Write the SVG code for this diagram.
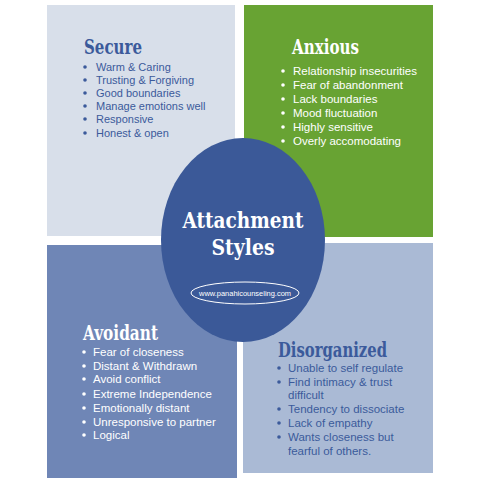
<svg xmlns="http://www.w3.org/2000/svg" width="480" height="480" viewBox="0 0 480 480">
<style>
.title{font-family:"DejaVu Serif Condensed","DejaVu Serif","Liberation Serif",serif;font-weight:bold;}
.item{font-family:"Liberation Sans","DejaVu Sans",sans-serif;font-size:11px;}
.big{font-size:11.5px;}
.dark{fill:#3b5a9b;}
.light{fill:#ffffff;}
</style>
<rect width="480" height="480" fill="#ffffff"/>
<g id="secure">
<rect x="47" y="5" width="188" height="231" fill="#d8dfea"/>
<text class="title dark" x="84" y="54" font-size="21" textLength="58" lengthAdjust="spacingAndGlyphs">Secure</text>
<g class="item dark">
<circle cx="85" cy="67" r="1.8"/><text x="96" y="71">Warm &amp; Caring</text>
<circle cx="85" cy="80" r="1.8"/><text x="96" y="84">Trusting &amp; Forgiving</text>
<circle cx="85" cy="93" r="1.8"/><text x="96" y="97">Good boundaries</text>
<circle cx="85" cy="106" r="1.8"/><text x="96" y="110">Manage emotions well</text>
<circle cx="85" cy="119" r="1.8"/><text x="96" y="123">Responsive</text>
<circle cx="85" cy="133" r="1.8"/><text x="96" y="137">Honest &amp; open</text>
</g>
</g>
<g id="anxious">
<rect x="244" y="5" width="189" height="232" fill="#68a333"/>
<text class="title light" x="292" y="54" font-size="21" textLength="67" lengthAdjust="spacingAndGlyphs">Anxious</text>
<g class="item big light">
<circle cx="283" cy="71" r="1.8"/><text x="293" y="75">Relationship insecurities</text>
<circle cx="283" cy="85" r="1.8"/><text x="293" y="89">Fear of abandonment</text>
<circle cx="283" cy="99" r="1.8"/><text x="293" y="103">Lack boundaries</text>
<circle cx="283" cy="113" r="1.8"/><text x="293" y="117">Mood fluctuation</text>
<circle cx="283" cy="127" r="1.8"/><text x="293" y="131">Highly sensitive</text>
<circle cx="283" cy="141" r="1.8"/><text x="293" y="145">Overly accomodating</text>
</g>
</g>
<g id="avoidant">
<rect x="47" y="245" width="190" height="233" fill="#6f86b6"/>
<text class="title light" x="83" y="340" font-size="21" textLength="75" lengthAdjust="spacingAndGlyphs">Avoidant</text>
<g class="item big light">
<circle cx="84" cy="352" r="1.8"/><text x="93" y="356">Fear of closeness</text>
<circle cx="84" cy="366" r="1.8"/><text x="93" y="370">Distant &amp; Withdrawn</text>
<circle cx="84" cy="379" r="1.8"/><text x="93" y="383">Avoid conflict</text>
<circle cx="84" cy="394" r="1.8"/><text x="93" y="398">Extreme Independence</text>
<circle cx="84" cy="408" r="1.8"/><text x="93" y="412">Emotionally distant</text>
<circle cx="84" cy="422" r="1.8"/><text x="93" y="426">Unresponsive to partner</text>
<circle cx="84" cy="435" r="1.8"/><text x="93" y="439">Logical</text>
</g>
</g>
<g id="disorganized">
<rect x="243" y="243" width="190" height="230" fill="#aabad5"/>
<text class="title dark" x="278" y="357" font-size="21" textLength="109" lengthAdjust="spacingAndGlyphs">Disorganized</text>
<g class="item big dark">
<circle cx="279" cy="368" r="1.8"/><text x="288" y="372">Unable to self regulate</text>
<circle cx="279" cy="382" r="1.8"/><text x="288" y="386">Find intimacy &amp; trust</text>
<text x="288" y="399">difficult</text>
<circle cx="279" cy="409" r="1.8"/><text x="288" y="413">Tendency to dissociate</text>
<circle cx="279" cy="423" r="1.8"/><text x="288" y="427">Lack of empathy</text>
<circle cx="279" cy="437" r="1.8"/><text x="288" y="441">Wants closeness but</text>
<text x="288" y="455">fearful of others.</text>
</g>
</g>
<g id="center">
<ellipse cx="243" cy="240" rx="82" ry="102" fill="#3b5998"/>
<text class="title light" x="243" y="228" font-size="22" text-anchor="middle" textLength="121" lengthAdjust="spacingAndGlyphs">Attachment</text>
<text class="title light" x="243" y="255" font-size="22" text-anchor="middle" textLength="63" lengthAdjust="spacingAndGlyphs">Styles</text>
<ellipse cx="245" cy="293" rx="54" ry="11" fill="none" stroke="#ffffff" stroke-width="1"/>
<text x="245" y="296" font-family="Liberation Sans,sans-serif" font-size="7.5" fill="#ffffff" text-anchor="middle" textLength="92" lengthAdjust="spacingAndGlyphs">www.panahicounseling.com</text>
</g>
</svg>
